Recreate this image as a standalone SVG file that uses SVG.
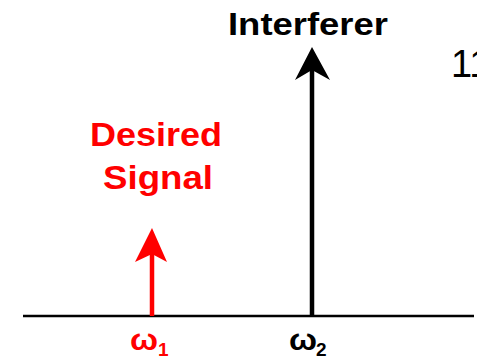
<svg xmlns="http://www.w3.org/2000/svg" width="477" height="359" viewBox="0 0 477 359">
<style>
.lbl{font-family:"Liberation Sans",Arial,sans-serif;font-weight:bold}
.red{fill:#ff0000}
.blk{fill:#000000}
</style>
<rect width="477" height="359" fill="#ffffff"/>
<g id="axis">
<line x1="23" y1="316" x2="474" y2="316" stroke="#000" stroke-width="2.5"/>
</g>
<g id="connectors">
<line x1="312" y1="316" x2="312" y2="62" stroke="#000" stroke-width="4.5"/>
<path d="M312,47 L330,80 L312,70 L295,80 Z" fill="#000"/>
<line x1="152" y1="316" x2="152" y2="245" stroke="#ff0000" stroke-width="4.5"/>
<path d="M152,228 L167,262 L152,254 L135,262 Z" fill="#ff0000"/>
</g>
<g id="interferer">
<text class="lbl blk" x="228" y="35" font-size="32" textLength="160" lengthAdjust="spacingAndGlyphs">Interferer</text>
</g>
<g id="desired">
<text class="lbl red" x="90" y="146" font-size="33" textLength="132" lengthAdjust="spacingAndGlyphs">Desired</text>
<text class="lbl red" x="103" y="189" font-size="33" textLength="110" lengthAdjust="spacingAndGlyphs">Signal</text>
</g>
<g id="w1">
<text class="lbl red" x="130" y="350" font-size="30" textLength="28" lengthAdjust="spacingAndGlyphs">ω</text>
<text class="lbl red" x="158" y="356" font-size="19">1</text>
</g>
<g id="w2">
<text class="lbl blk" x="289" y="350" font-size="30" textLength="28" lengthAdjust="spacingAndGlyphs">ω</text>
<text class="lbl blk" x="316" y="356" font-size="19">2</text>
</g>
<g id="page-number">
<text x="451" y="77" font-family="'Liberation Sans',Arial,sans-serif" font-size="38" fill="#000">11</text>
</g>
</svg>
